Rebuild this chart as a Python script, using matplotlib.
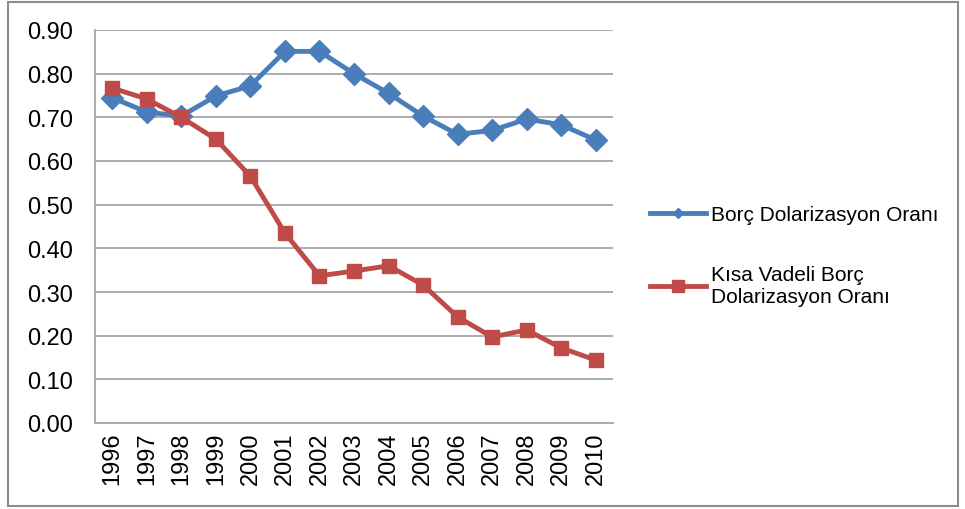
import matplotlib

matplotlib.use("Agg")
import matplotlib.pyplot as plt
from matplotlib.lines import Line2D
from matplotlib.patches import Rectangle

plt.rcParams["font.family"] = ["Liberation Sans", "DejaVu Sans"]

years = ["1996", "1997", "1998", "1999", "2000", "2001", "2002", "2003",
         "2004", "2005", "2006", "2007", "2008", "2009", "2010"]
borc_dolar = [0.745, 0.712, 0.703, 0.749, 0.772, 0.851, 0.851, 0.800,
              0.755, 0.703, 0.661, 0.670, 0.696, 0.683, 0.648]
kisa_vadeli = [0.767, 0.742, 0.700, 0.650, 0.565, 0.435, 0.337, 0.348,
               0.360, 0.316, 0.243, 0.197, 0.213, 0.172, 0.144]
label_borc = "Borç Dolarizasyon Oranı"
label_kisa = "Kısa Vadeli Borç\nDolarizasyon Oranı"

BLUE = "#4A7EBB"
RED = "#BE4B48"
GRID = "#A6A6A6"

fig = plt.figure(figsize=(9.65, 5.10), dpi=100)
ax = fig.add_axes([95 / 965, 1 - 424 / 510, (613 - 95) / 965, (424 - 31) / 510])

x = range(len(years))
ax.plot(x, borc_dolar, color=BLUE, lw=3.5, marker="D", ms=11, zorder=3)
ax.plot(x, kisa_vadeli, color=RED, lw=3.5, marker="s", ms=10, zorder=3)

ax.set_xlim(-0.5, len(years) - 0.5)
ax.set_ylim(0, 0.9)
ax.set_yticks([i / 10 for i in range(10)])
ax.set_yticklabels([f"{i / 10:.2f}" for i in range(10)], fontsize=17)
ax.set_xticks(list(x))
ax.set_xticklabels(years, rotation=90, fontsize=17)
ax.tick_params(axis="y", length=0, pad=16)
ax.tick_params(axis="x", length=0, pad=6)
ax.yaxis.grid(True, color=GRID, lw=1.3)
ax.set_axisbelow(True)
for side in ("top", "right"):
    ax.spines[side].set_visible(False)
for side in ("left", "bottom"):
    ax.spines[side].set_color(GRID)
    ax.spines[side].set_linewidth(1.3)

handles = [
    Line2D([], [], color=BLUE, lw=3.5, marker="D", ms=5),
    Line2D([], [], color=RED, lw=3.5, marker="s", ms=8),
]
fig.legend(handles, [label_borc, label_kisa], loc="upper left",
           bbox_to_anchor=(650 / 965, 1 - 206 / 510), frameon=False,
           fontsize=15, handlelength=2.7, handletextpad=0.25,
           labelspacing=1.96, borderpad=0, borderaxespad=0)

fig.patches.append(Rectangle((8 / 965, 3 / 510), 950 / 965, 504 / 510,
                             transform=fig.transFigure, fill=False,
                             edgecolor="#8C8C8C", lw=1.5))

fig.savefig("out.png", dpi=100)
plt.close(fig)
